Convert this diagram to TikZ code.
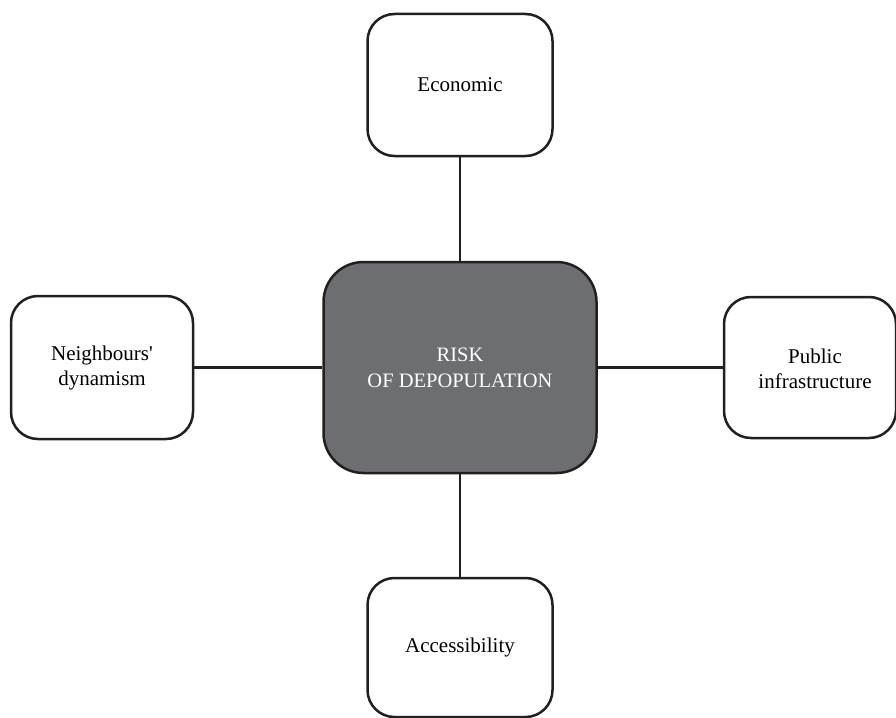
\documentclass[tikz,border=0pt]{standalone}
\usepackage{fontspec}
\setmainfont{Liberation Serif}[Ligatures=TeXOff]
\definecolor{ink}{HTML}{231F20}
\definecolor{hub}{HTML}{6D6E71}
\begin{document}
\begin{tikzpicture}[x=1pt,y=-1pt,
  box/.style={draw=ink, line width=2.5pt, fill=white, rounded corners=27pt, inner sep=0pt, align=center, font=\fontsize{21}{25}\selectfont},
  hubbox/.style={draw=ink, line width=2.5pt, fill=hub, rounded corners=40pt, inner sep=0pt, align=center, text=white, font=\fontsize{20.5}{26}\selectfont},
  link/.style={draw=ink, line width=2.5pt}]
\useasboundingbox (0,0) rectangle (896,717);
\node[hubbox, minimum width=273pt, minimum height=211pt] (risk) at (460,367.5) {RISK\\OF DEPOPULATION};
\node[box, minimum width=185pt, minimum height=142pt] (eco) at (460,85) {Economic};
\node[box, minimum width=182pt, minimum height=143pt] (nei) at (102,367.5) {Neighbours'\\dynamism};
\node[box, minimum width=172pt, minimum height=141pt] (pub) at (810,367.5) {};
\node[align=center, inner sep=0pt, font=\fontsize{21}{25}\selectfont] (pubtxt) at (815,369) {Public\\infrastructure};
\node[box, minimum width=185pt, minimum height=139pt] (acc) at (460,647.5) {Accessibility};
\draw[link] (eco.south) -- (risk.north);
\draw[link] (risk.south) -- (acc.north);
\draw[link] (nei.east) -- (risk.west);
\draw[link] (risk.east) -- (pub.west);
\end{tikzpicture}
\end{document}
